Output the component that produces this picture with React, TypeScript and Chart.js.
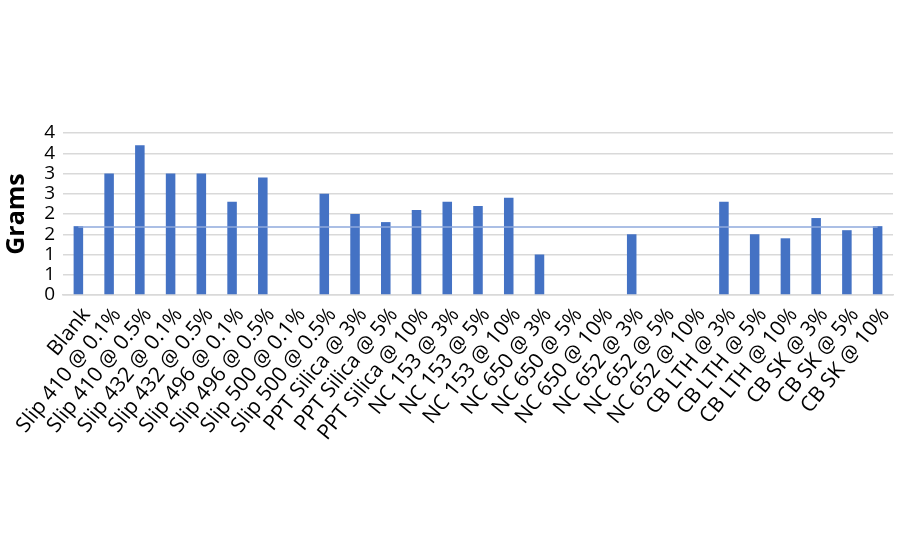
import React, { useEffect, useRef } from "react";
import { Chart, registerables } from "chart.js";

Chart.register(...registerables);

const categories = [
  "Blank",
  "Slip 410 @ 0.1%",
  "Slip 410 @ 0.5%",
  "Slip 432 @ 0.1%",
  "Slip 432 @ 0.5%",
  "Slip 496 @ 0.1%",
  "Slip 496 @ 0.5%",
  "Slip 500 @ 0.1%",
  "Slip 500 @ 0.5%",
  "PPT Silica @ 3%",
  "PPT Silica @ 5%",
  "PPT Silica @ 10%",
  "NC 153 @ 3%",
  "NC 153 @ 5%",
  "NC 153 @ 10%",
  "NC 650 @ 3%",
  "NC 650 @ 5%",
  "NC 650 @ 10%",
  "NC 652 @ 3%",
  "NC 652 @ 5%",
  "NC 652 @ 10%",
  "CB LTH @ 3%",
  "CB LTH @ 5%",
  "CB LTH @ 10%",
  "CB SK @ 3%",
  "CB SK @ 5%",
  "CB SK @ 10%",
];

const gramsValues = [
  1.7, 3.0, 3.7, 3.0, 3.0, 2.3, 2.9, 0, 2.5, 2.0, 1.8, 2.1, 2.3, 2.2, 2.4,
  1.0, 0, 0, 1.5, 0, 0, 2.3, 1.5, 1.4, 1.9, 1.6, 1.7,
];

const blankReference = [
  1.68, 1.68, 1.68, 1.68, 1.68, 1.68, 1.68, 1.68, 1.68, 1.68, 1.68, 1.68, 1.68,
  1.68, 1.68, 1.68, 1.68, 1.68, 1.68, 1.68, 1.68, 1.68, 1.68, 1.68, 1.68, 1.68,
  1.68,
];

const yTickValues = [0, 0.5, 1, 1.5, 2, 2.5, 3, 3.5, 4];
const yTickLabels = ["0", "1", "1", "2", "2", "3", "3", "4", "4"];

export default function App() {
  const canvasRef = useRef<HTMLCanvasElement | null>(null);

  useEffect(() => {
    document.body.style.margin = "0";
    const canvas = canvasRef.current;
    if (!canvas) return;
    const padLeft = 0;
    const padTop = 133;
    const chart = new Chart(canvas, {
      type: "bar",
      data: {
        labels: categories,
        datasets: [
          {
            type: "line",
            label: "Blank",
            data: blankReference,
            borderColor: "#8faadc",
            borderWidth: 1.5,
            pointRadius: 0,
            fill: false,
            order: 0,
          } as any,
          {
            type: "bar",
            label: "Grams",
            data: gramsValues,
            backgroundColor: "#4472c4",
            borderWidth: 0,
            barPercentage: 0.31,
            categoryPercentage: 1,
            order: 1,
          },
        ],
      },
      options: {
        responsive: true,
        maintainAspectRatio: false,
        animation: false,
        layout: { padding: { left: padLeft, top: padTop, right: 7, bottom: 0 } },
        plugins: {
          legend: { display: false },
          tooltip: { enabled: false },
        },
        scales: {
          x: {
            grid: { display: false, drawTicks: false },
            border: { display: true, color: "#d9d9d9", width: 1.5 },
            ticks: {
              autoSkip: false,
              minRotation: 51,
              maxRotation: 51,
              padding: 8,
              labelOffset: 8,
              color: "#000",
              font: { family: "Open Sans", size: 21 },
            },
            afterFit: (scale: any) => {
              scale.height = 550 - 295;
              scale.paddingRight = 0;
              scale.paddingLeft = 0;
            },
          },
          y: {
            min: 0,
            max: 4,
            grid: { color: "#d9d9d9", lineWidth: 1.5, drawTicks: false },
            border: { display: false },
            afterBuildTicks: (scale: any) => {
              scale.ticks = yTickValues.map((v) => ({ value: v }));
            },
            ticks: {
              autoSkip: false,
              padding: 8,
              color: "#000",
              font: { family: "Open Sans", size: 19 },
              callback: (_v: any, i: number) => yTickLabels[i],
            },
            title: {
              display: true,
              text: "Grams",
              color: "#000",
              padding: { top: 2, bottom: 0 },
              font: { family: "Open Sans", size: 25, weight: "bold" },
            },
            afterFit: (scale: any) => {
              scale.width = 63 - padLeft;
            },
          },
        },
      },
    });
    return () => chart.destroy();
  }, []);

  return (
    <div style={{ width: 900, height: 550, position: "relative", background: "#fff" }}>
      <canvas ref={canvasRef} />
    </div>
  );
}
